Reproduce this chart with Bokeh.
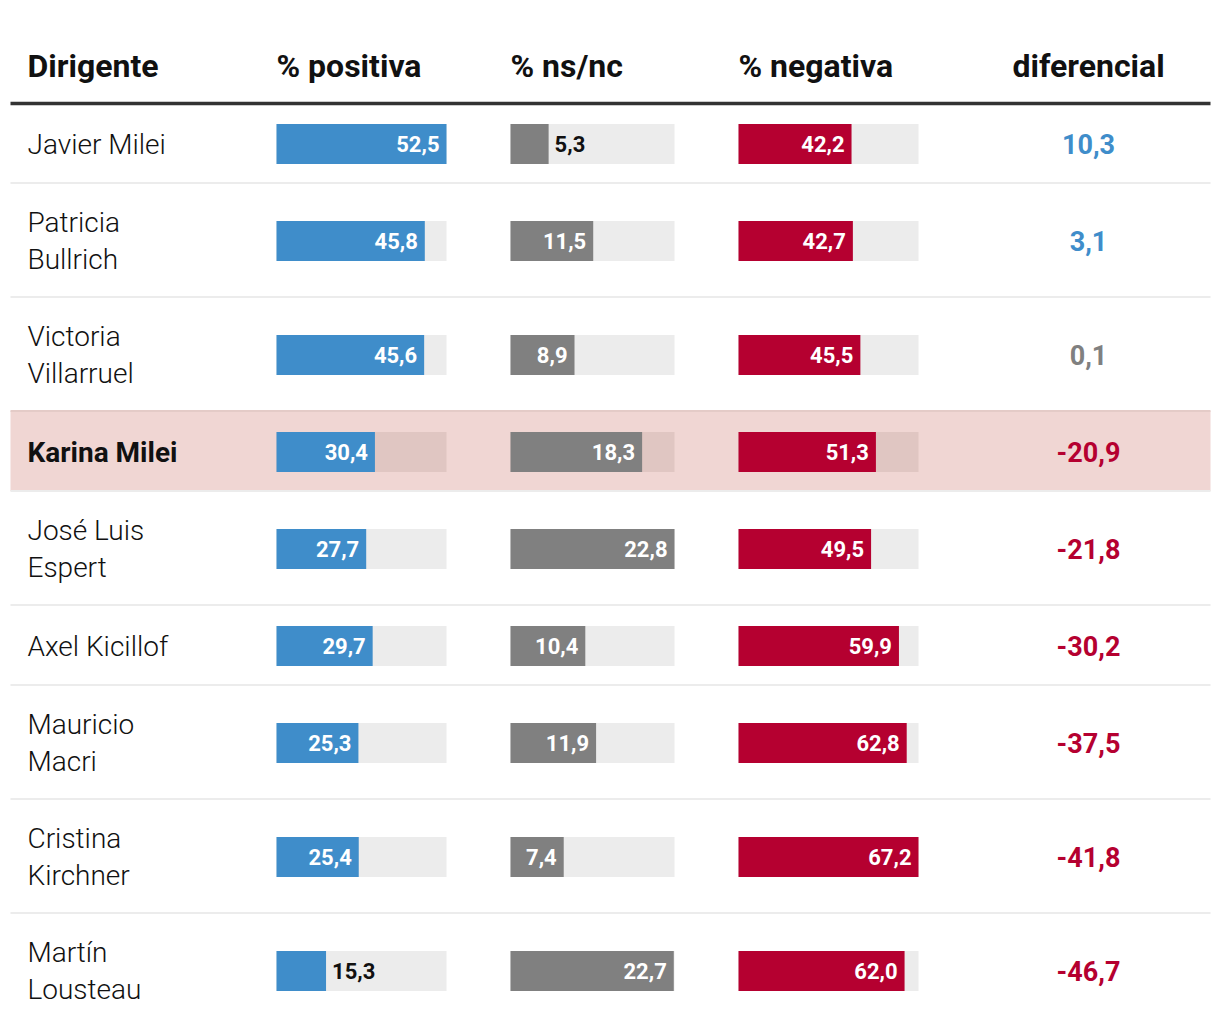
from bokeh.plotting import figure
from bokeh.models import ColumnDataSource, Range1d
from bokeh.core.properties import value
from bokeh.embed import file_html
from bokeh.resources import INLINE

# ---------------- data ----------------
names = ["Javier Milei", "Patricia\nBullrich", "Victoria\nVillarruel", "Karina Milei",
         "José Luis\nEspert", "Axel Kicillof", "Mauricio\nMacri", "Cristina\nKirchner",
         "Martín\nLousteau"]
positiva = [52.5, 45.8, 45.6, 30.4, 27.7, 29.7, 25.3, 25.4, 15.3]
nsnc = [5.3, 11.5, 8.9, 18.3, 22.8, 10.4, 11.9, 7.4, 22.7]
negativa = [42.2, 42.7, 45.5, 51.3, 49.5, 59.9, 62.8, 67.2, 62.0]
diferencial = [10.3, 3.1, 0.1, -20.9, -21.8, -30.2, -37.5, -41.8, -46.7]
headers = ["Dirigente", "% positiva", "% ns/nc", "% negativa", "diferencial"]
highlighted = "Karina Milei"

# ---------------- layout ----------------
W, H = 1211, 1028
TABLE_L, TABLE_R = 10, 1210
NAME_X = 27
COLS = [  # (series, left, width, color)
    (positiva, 276, 170, "#3f8dca"),
    (nsnc, 510, 164, "#808080"),
    (negativa, 738, 180, "#b50030"),
]
DIF_X = 1088
HEADER_Y = 65.5
HEADER_LINE_Y = 103
ROW_START = 103.5
BAR_H = 40

BLUE, GREY, RED = "#3f8dca", "#808080", "#b50030"
FONT = value("Roboto")

p = figure(width=W, height=H, x_range=Range1d(0, W), y_range=Range1d(H, 0),
           output_backend="svg", toolbar_location=None,
           x_axis_location=None, y_axis_location=None, min_border=0)
p.grid.visible = False
p.outline_line_color = None
p.background_fill_color = "white"
p.border_fill_color = "white"

# rows geometry
tops, bottoms, centers = [], [], []
y = ROW_START
for n in names:
    h = 114 if "\n" in n else 80
    tops.append(y)
    bottoms.append(y + h)
    centers.append(y + h / 2)
    y += h

# highlight background
for i, n in enumerate(names):
    if n == highlighted:
        p.quad(left=TABLE_L, right=TABLE_R, top=tops[i] - 1, bottom=bottoms[i] - 1,
               fill_color="#f0d6d3", line_color=None)

# separators
for i in range(len(names) - 1):
    col = "#e4cbc7" if names[i + 1] == highlighted else "#ececec"
    p.segment(x0=TABLE_L, x1=TABLE_R, y0=bottoms[i] - 1, y1=bottoms[i] - 1,
              line_color=col, line_width=2)

# header
p.segment(x0=TABLE_L, x1=TABLE_R, y0=HEADER_LINE_Y, y1=HEADER_LINE_Y,
          line_color="#333333", line_width=3.5)
hx = [NAME_X] + [c[1] for c in COLS] + [DIF_X]
halign = ["left", "left", "left", "left", "center"]
p.text(x=hx, y=[HEADER_Y] * 5, text=headers, text_font=FONT, text_font_style="bold",
       text_font_size="32px", text_color="#111111", text_align=halign,
       text_baseline="middle")

# names
name_src = ColumnDataSource(dict(
    x=[NAME_X] * len(names), y=centers, text=names,
    font=["Roboto" if n == highlighted else "Roboto Light" for n in names],
    style=["bold" if n == highlighted else "normal" for n in names]))
p.text(x="x", y="y", text="text", source=name_src, text_font="font",
       text_font_style="style", text_font_size="28px", text_color="#111111",
       text_baseline="middle", text_align="left", text_line_height=1.14)

def fmt(v):
    return f"{v:.1f}".replace(".", ",")

# bars
for series, left, width, color in COLS:
    vmax = max(series)
    rights = [left + v / vmax * width for v in series]
    bg = ["#e0c6c2" if n == highlighted else "#ececec" for n in names]
    src = ColumnDataSource(dict(
        left=[left] * len(series), full=[left + width] * len(series), right=rights,
        top=[c - BAR_H / 2 for c in centers], bottom=[c + BAR_H / 2 for c in centers],
        bg=bg))
    p.quad(left="left", right="full", top="top", bottom="bottom", fill_color="bg",
           line_color=None, source=src)
    p.quad(left="left", right="right", top="top", bottom="bottom", fill_color=color,
           line_color=None, source=src)
    lx, la, lc, lt = [], [], [], []
    for v, r in zip(series, rights):
        t = fmt(v)
        est = sum(5 if ch == "," else 11 for ch in t)
        if (r - left) - est >= 16:
            lx.append(r - 7); la.append("right"); lc.append("white")
        else:
            lx.append(r + 6); la.append("left"); lc.append("#111111")
        lt.append(t)
    lsrc = ColumnDataSource(dict(x=lx, y=centers, text=lt, align=la, color=lc))
    p.text(x="x", y="y", text="text", source=lsrc, text_font=FONT,
           text_font_style="bold", text_font_size="22px", text_color="color",
           text_align="align", text_baseline="middle")

# diferencial
dcol = [GREY if abs(d) < 1 else (BLUE if d > 0 else RED) for d in diferencial]
dsrc = ColumnDataSource(dict(x=[DIF_X] * len(names), y=centers,
                             text=[fmt(d) for d in diferencial], color=dcol))
p.text(x="x", y="y", text="text", source=dsrc, text_font=FONT, text_font_style="bold",
       text_font_size="27px", text_color="color", text_align="center",
       text_baseline="middle")

open("out.html", "w").write(file_html(p, INLINE))
